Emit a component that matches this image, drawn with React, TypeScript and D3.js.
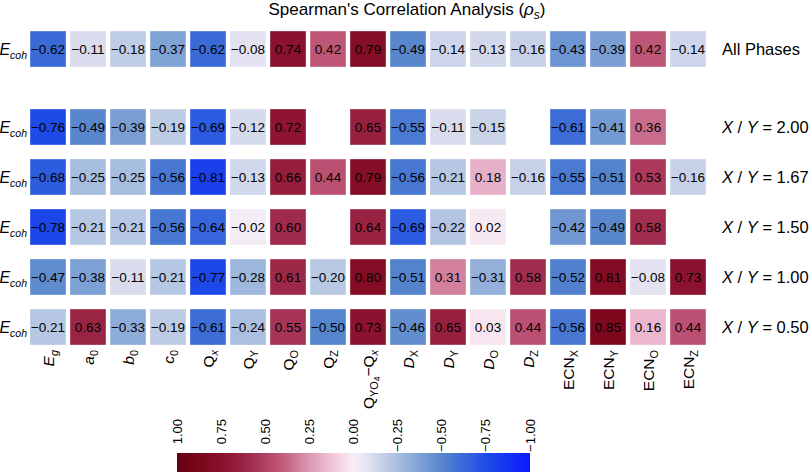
import React from 'react';
import * as d3 from 'd3';

// feature columns, in plotting order
const columns = [
  'Eg', 'a0', 'b0', 'c0', 'Qx', 'QY', 'QO', 'QZ', 'QYO4-Qx',
  'DX', 'DY', 'DO', 'DZ', 'ECNX', 'ECNY', 'ECNO', 'ECNZ',
];

// rich-text pieces for each column label: [text, level (0 normal, 1 sub, 2 subsub), italic]
type Seg = [string, number, boolean];
const columnLabels: Seg[][] = [
  [['E', 0, true], ['g', 1, true]],
  [['a', 0, true], ['0', 1, false]],
  [['b', 0, true], ['0', 1, false]],
  [['c', 0, true], ['0', 1, false]],
  [['Q', 0, false], ['x', 1, true]],
  [['Q', 0, false], ['Y', 1, false]],
  [['Q', 0, false], ['O', 1, false]],
  [['Q', 0, false], ['Z', 1, false]],
  [['Q', 0, false], ['YO', 1, false], ['4', 2, false], ['\u2212Q', 0, false], ['x', 1, true]],
  [['D', 0, true], ['X', 1, false]],
  [['D', 0, true], ['Y', 1, false]],
  [['D', 0, true], ['O', 1, false]],
  [['D', 0, true], ['Z', 1, false]],
  [['ECN', 0, false], ['X', 1, false]],
  [['ECN', 0, false], ['Y', 1, false]],
  [['ECN', 0, false], ['O', 1, false]],
  [['ECN', 0, false], ['Z', 1, false]],
];

// Spearman rho of E_coh against every feature
const allPhases = [-0.62, -0.11, -0.18, -0.37, -0.62, -0.08, 0.74, 0.42, 0.79, -0.49, -0.14, -0.13, -0.16, -0.43, -0.39, 0.42, -0.14];

const ratioLabels = ['2.00', '1.67', '1.50', '1.00', '0.50'];
const ratio200 = [-0.76, -0.49, -0.39, -0.19, -0.69, -0.12, 0.72, null, 0.65, -0.55, -0.11, -0.15, null, -0.61, -0.41, 0.36, null];
const ratio167 = [-0.68, -0.25, -0.25, -0.56, -0.81, -0.13, 0.66, 0.44, 0.79, -0.56, -0.21, 0.18, -0.16, -0.55, -0.51, 0.53, -0.16];
const ratio150 = [-0.78, -0.21, -0.21, -0.56, -0.64, -0.02, 0.60, null, 0.64, -0.69, -0.22, 0.02, null, -0.42, -0.49, 0.58, null];
const ratio100 = [-0.47, -0.38, -0.11, -0.21, -0.77, -0.28, 0.61, -0.20, 0.80, -0.51, 0.31, -0.31, 0.58, -0.52, 0.81, -0.08, 0.73];
const ratio050 = [-0.21, 0.63, -0.33, -0.19, -0.61, -0.24, 0.55, -0.50, 0.73, -0.46, 0.65, 0.03, 0.44, -0.56, 0.85, 0.16, 0.44];
const ratioRows = [ratio200, ratio167, ratio150, ratio100, ratio050];

const cbTicks = [1, 0.75, 0.5, 0.25, 0, -0.25, -0.5, -0.75, -1];

// diverging blue - white - crimson map
const color = d3.scaleLinear<string>()
  .domain([-1, -0.75, -0.5, -0.25, -0.1, 0, 0.1, 0.25, 0.4, 0.55, 0.7, 0.85, 1])
  .range(['#0a1aff', '#1f4ce6', '#5585cc', '#a8bedf', '#dcdeee', '#f8f0f6', '#f4cce0',
    '#dc98b4', '#c25c7c', '#a63456', '#901634', '#7e081e', '#660012'])
  .interpolate(d3.interpolateRgb)
  .clamp(true);

const FONT = '"Liberation Sans", Arial, Helvetica, sans-serif';
const fmt = d3.format('.2f');

function RichText({ segs, size }: { segs: Seg[]; size: number }) {
  // emit tspans with relative dy so subscripts return to the baseline
  let cur = 0;
  const shift = [0, size * 0.28, size * 0.45];
  const scale = [1, 0.7, 0.55];
  return (
    <>
      {segs.map(([t, lvl, it], i) => {
        const dy = shift[lvl] - cur;
        cur = shift[lvl];
        return (
          <tspan key={i} dy={dy} fontSize={size * scale[lvl]} fontStyle={it ? 'italic' : 'normal'}>{t}</tspan>
        );
      })}
    </>
  );
}

export default function App() {
  const W = 812, H = 472;

  const x = d3.scaleBand<string>().domain(columns).range([28, 708]).paddingInner(0.1).paddingOuter(0.05);
  const yTop = d3.scaleBand<string>().domain(['All Phases']).range([24, 74]).paddingInner(0.28).paddingOuter(0.14);
  const yRat = d3.scaleBand<string>().domain(ratioLabels).range([102, 352]).paddingInner(0.28).paddingOuter(0.14);
  const cb = d3.scaleLinear().domain([1, -1]).range([177, 530]);

  const rows = [
    { key: 'all', y: yTop('All Phases')!, h: yTop.bandwidth(), vals: allPhases as (number | null)[], ratio: null as string | null },
    ...ratioLabels.map((r, i) => ({ key: r, y: yRat(r)!, h: yRat.bandwidth(), vals: ratioRows[i], ratio: r })),
  ];

  const gradStops = d3.range(0, 1.0001, 0.02);

  return (
    <svg width={W} height={H} style={{ position: 'absolute', left: 0, top: 0 }} fontFamily={FONT}>
      <defs>
        <linearGradient id="cbar" x1="0" x2="1" y1="0" y2="0">
          {gradStops.map(t => (
            <stop key={t} offset={t} stopColor={color(1 - 2 * t)} />
          ))}
        </linearGradient>
      </defs>

      <text x={407} y={15} textAnchor="middle" fontSize={17}>
        Spearman's Correlation Analysis (<tspan fontStyle="italic">ρ</tspan>
        <tspan dy={4} fontSize={12} fontStyle="italic">s</tspan>
        <tspan dy={-4}>)</tspan>
      </text>

      {rows.map(row => {
        const cy = row.y + row.h / 2;
        return (
          <g key={row.key}>
            <text x={27} y={cy + 5.5} fontSize={16} textAnchor="end">
              <tspan fontStyle="italic">E</tspan>
              <tspan dy={4} fontSize={10.5} fontStyle="italic">coh</tspan>
            </text>
            {row.vals.map((v, i) => v === null ? null : (
              <g key={i}>
                <rect x={x(columns[i])!} y={row.y} width={x.bandwidth()} height={row.h}
                  fill={color(v)} stroke="#ffffff" strokeOpacity={0.35} strokeWidth={1} />
                <text x={x(columns[i])! + x.bandwidth() / 2} y={cy + 5} textAnchor="middle"
                  fontSize={13.5} fill="#000">{fmt(v)}</text>
              </g>
            ))}
            <text x={722} y={cy + 6} fontSize={16.5}>
              {row.ratio === null ? 'All Phases' : (
                <>
                  <tspan fontStyle="italic">X</tspan> / <tspan fontStyle="italic">Y</tspan> = {row.ratio}
                </>
              )}
            </text>
          </g>
        );
      })}

      {columns.map((c, i) => (
        <text key={c} transform={`translate(${x(c)! + x.bandwidth() / 2},350) rotate(-90)`}
          y={5.5} textAnchor="end" fontSize={15.5}>
          <RichText segs={columnLabels[i]} size={15.5} />
        </text>
      ))}

      <rect x={cb(1)} y={453} width={cb(-1) - cb(1)} height={30} fill="url(#cbar)" />
      {cbTicks.map(t => (
        <text key={t} transform={`translate(${cb(t)},419) rotate(-90)`} y={4.5}
          textAnchor="end" fontSize={13}>{fmt(t)}</text>
      ))}
    </svg>
  );
}
